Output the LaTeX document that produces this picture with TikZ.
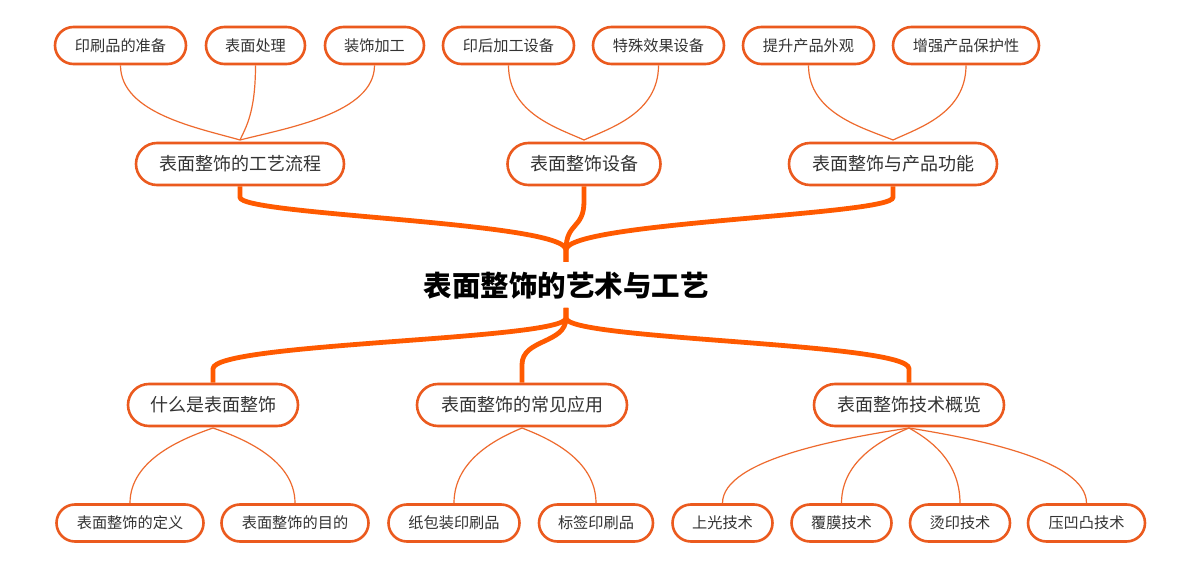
\documentclass[tikz,border=0pt]{standalone}
\usepackage{fontspec}
\setmainfont{Noto Sans CJK SC}
\usetikzlibrary{shapes.misc,calc}
\definecolor{nodeor}{HTML}{EB5A1E}
\definecolor{branchor}{HTML}{FF5A00}
\definecolor{thinor}{HTML}{EE6A2E}
\definecolor{txt}{HTML}{333333}
\begin{document}
\begin{tikzpicture}[x=1pt,y=-1pt,
  pill/.style={rounded rectangle, draw=nodeor, line width=2.6pt, fill=white, text=txt, inner sep=0pt},
  leaf/.style={pill, minimum height=37pt, font=\fontsize{15.2}{15.2}\selectfont},
  mid/.style={pill, minimum height=42pt, font=\fontsize{18}{18}\selectfont},
  thick branch/.style={draw=branchor, line width=4.8pt, line cap=butt},
  thin branch/.style={draw=thinor, line width=1.2pt}]
\useasboundingbox (0,0) rectangle (1200,569);
\fill[white] (0,0) rectangle (1200,569);

% root
\node[font=\fontsize{28.5}{28.5}\selectfont\bfseries, text=black] (root) at (566,286) {表面整饰的艺术与工艺};
\coordinate (rt) at (566,262);
\coordinate (rb) at (566,308);

% upper mid nodes
\node[mid, minimum width=208pt] (m1) at (240,164) {表面整饰的工艺流程};
\node[mid, minimum width=153pt] (m2) at (584,164) {表面整饰设备};
\node[mid, minimum width=208pt] (m3) at (893,164) {表面整饰与产品功能};

% lower mid nodes
\node[mid, minimum width=170pt] (n1) at (213,405) {什么是表面整饰};
\node[mid, minimum width=210pt] (n2) at (522,405) {表面整饰的常见应用};
\node[mid, minimum width=190pt] (n3) at (909,405) {表面整饰技术概览};

% top leaves
\node[leaf, minimum width=131pt] (a1) at (120.5,45.5) {印刷品的准备};
\node[leaf, minimum width=99pt] (a2) at (255.5,45.5) {表面处理};
\node[leaf, minimum width=99pt] (a3) at (374.5,45.5) {装饰加工};
\node[leaf, minimum width=131pt] (b1) at (508.5,45.5) {印后加工设备};
\node[leaf, minimum width=131pt] (b2) at (658.5,45.5) {特殊效果设备};
\node[leaf, minimum width=131pt] (c1) at (808.5,45.5) {提升产品外观};
\node[leaf, minimum width=146pt] (c2) at (966,45.5) {增强产品保护性};

% bottom leaves
\node[leaf, minimum width=147pt] (d1) at (130,523) {表面整饰的定义};
\node[leaf, minimum width=147pt] (d2) at (295,523) {表面整饰的目的};
\node[leaf, minimum width=131pt] (e1) at (454,523) {纸包装印刷品};
\node[leaf, minimum width=114pt] (e2) at (596,523) {标签印刷品};
\node[leaf, minimum width=100pt] (f1) at (722.5,523) {上光技术};
\node[leaf, minimum width=100pt] (f2) at (841.5,523) {覆膜技术};
\node[leaf, minimum width=100pt] (f3) at (960,523) {烫印技术};
\node[leaf, minimum width=117pt] (f4) at (1086.5,523) {压凹凸技术};

% convergence points
\coordinate (cm1) at (240,140);
\coordinate (cm2) at (584,140);
\coordinate (cm3) at (893,140);
\coordinate (cn1) at (213,428);
\coordinate (cn2) at (522,428);
\coordinate (cn3) at (909,428);

% thick branches
\draw[thick branch] (m1.south) -- ++(0,11) .. controls ++(0,18) and ($(rt)+(0,-40)$) .. ($(rt)+(0,-12)$) -- (rt);
\draw[thick branch] (m2.south) -- ++(0,15) .. controls ++(0,28) and ($(rt)+(0,-40)$) .. ($(rt)+(0,-12)$) -- (rt);
\draw[thick branch] (m3.south) -- ++(0,11) .. controls ++(0,18) and ($(rt)+(0,-40)$) .. ($(rt)+(0,-12)$) -- (rt);
\draw[thick branch] (rb) -- ++(0,10) .. controls ++(0,22) and ($(n1.north)+(0,-40)$) .. ($(n1.north)+(0,-14)$) -- (n1.north);
\draw[thick branch] (rb) -- ++(0,10) .. controls ++(0,26) and ($(n2.north)+(0,-44)$) .. ($(n2.north)+(0,-18)$) -- (n2.north);
\draw[thick branch] (rb) -- ++(0,10) .. controls ++(0,22) and ($(n3.north)+(0,-40)$) .. ($(n3.north)+(0,-14)$) -- (n3.north);

% thin branches top
\foreach \l/\c in {a1/cm1,a2/cm1,a3/cm1,b1/cm2,b2/cm2,c1/cm3,c2/cm3}{
  \draw[thin branch] (\l.south) .. controls ($(\l.south)+(0,48)$) and ($(\c)!0.35!(\l.south |- \c)+(0,-12)$) .. (\c);
}
% thin branches bottom
\foreach \l/\c in {d1/cn1,d2/cn1,e1/cn2,e2/cn2,f1/cn3,f2/cn3,f3/cn3,f4/cn3}{
  \draw[thin branch] (\c) .. controls ($(\c)!0.35!(\l.north |- \c)+(0,10)$) and ($(\l.north)+(0,-44)$) .. (\l.north);
}
\end{tikzpicture}
\end{document}
